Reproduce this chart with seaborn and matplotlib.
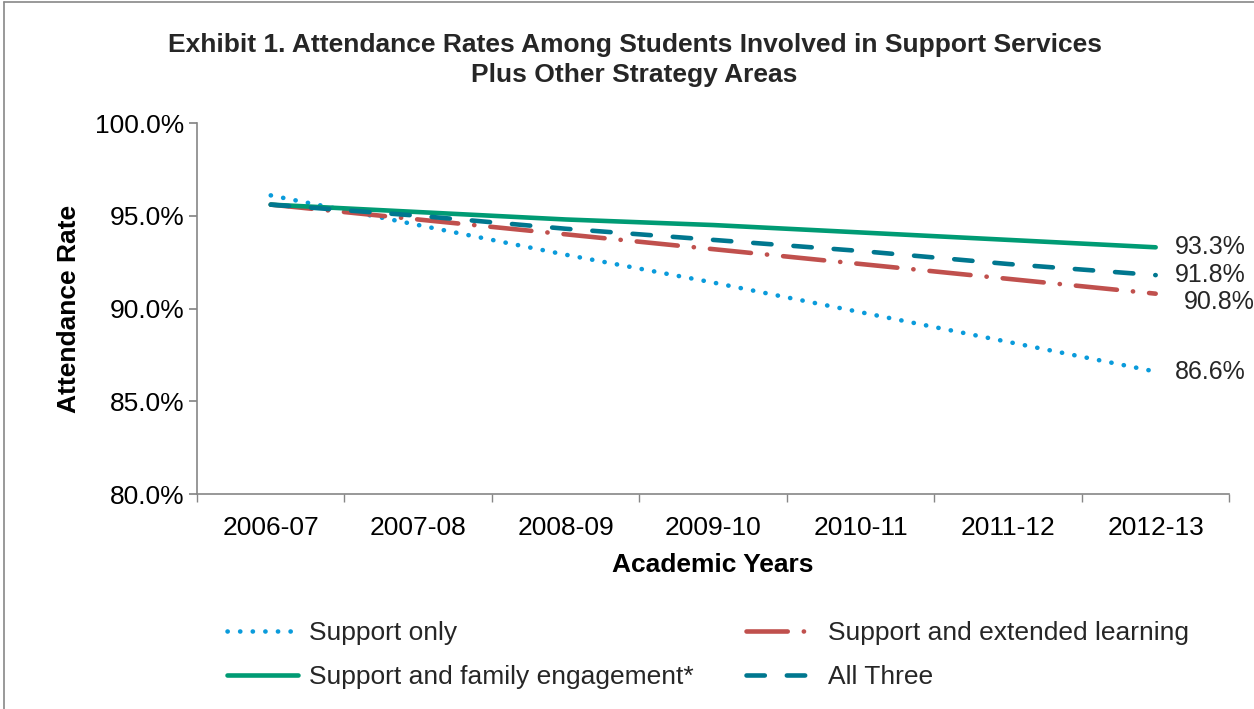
import matplotlib

matplotlib.use("Agg")
import matplotlib.pyplot as plt
from matplotlib.lines import Line2D
from matplotlib.ticker import FixedLocator, PercentFormatter
import pandas as pd
import seaborn as sns

years = ["2006-07", "2007-08", "2008-09", "2009-10", "2010-11", "2011-12", "2012-13"]
support_only = [96.1, 94.5, 92.9, 91.4, 89.8, 88.2, 86.6]
support_extended = [95.6, 94.8, 94.0, 93.2, 92.4, 91.6, 90.8]
support_family = [95.6, 95.2, 94.8, 94.5, 94.1, 93.7, 93.3]
all_three = [95.6, 95.0, 94.3, 93.7, 93.1, 92.4, 91.8]

series_names = ["Support only", "Support and extended learning",
                "Support and family engagement*", "All Three"]
series_values = [support_only, support_extended, support_family, all_three]
colors = ["#0A9BDB", "#C0504D", "#009B74", "#00778F"]
styles = [(0, (0.05, 2.7)), (0, (9, 3.5, 0.05, 3.5)), "-", (0, (4.0, 4.8))]
# end-label nudges in points (keeps 91.8 / 90.8 apart like the original)
label_nudge = [(14, 0), (20, -6), (14, 0), (14, 0)]

sns.set_theme(style="white")
plt.rcParams["font.family"] = ["Liberation Sans", "DejaVu Sans"]

fig = plt.figure(figsize=(12.54, 7.09), dpi=100)
ax = fig.add_axes([0.1571, 0.3032, 0.8233, 0.5233])

for name, vals, col, ls, nudge in zip(series_names, series_values, colors,
                                      styles, label_nudge):
    df = pd.DataFrame({"x": range(len(years)), "y": vals})
    sns.lineplot(data=df, x="x", y="y", ax=ax, color=col, linewidth=3.3,
                 linestyle=ls, label=name, solid_capstyle="round",
                 dash_capstyle="round")
    ax.annotate(f"{vals[-1]:.1f}%", (len(years) - 1, vals[-1]), xytext=nudge,
                textcoords="offset points", fontsize=18, va="center", ha="left")

ax.set_xlim(-0.5, len(years) - 0.5)
ax.set_ylim(80, 100)
ax.yaxis.set_major_locator(FixedLocator([80, 85, 90, 95, 100]))
ax.yaxis.set_major_formatter(PercentFormatter(decimals=1))
ax.set_xticks(range(len(years)))
ax.set_xticklabels(years)
ax.xaxis.set_minor_locator(FixedLocator([i - 0.5 for i in range(len(years) + 1)]))
ax.tick_params(axis="x", which="major", length=0, labelsize=19, pad=16,
               labelcolor="black")
ax.tick_params(axis="x", which="minor", length=6, color="#868686", direction="out",
               bottom=True)
ax.tick_params(axis="y", which="major", length=6, color="#868686", direction="out",
               labelsize=19, left=True, pad=3, labelcolor="black")

for side in ["top", "right"]:
    ax.spines[side].set_visible(False)
for side in ["left", "bottom"]:
    ax.spines[side].set_color("#868686")
    ax.spines[side].set_linewidth(1.2)

ax.set_xlabel("Academic Years", fontsize=19, fontweight="bold", labelpad=9,
              color="black")
ax.set_ylabel("Attendance Rate", fontsize=19, fontweight="bold", labelpad=10,
              color="black")
fig.text(0.506, 0.915, "Exhibit 1. Attendance Rates Among Students Involved in Support Services\n"
         "Plus Other Strategy Areas", ha="center", va="center", fontsize=19,
         fontweight="bold", linespacing=1.3)

# row-major legend order: matplotlib fills columns first
handles, labels = ax.get_legend_handles_labels()
order = [0, 2, 1, 3]
ax.legend([handles[i] for i in order], [labels[i] for i in order], ncol=2,
          loc="center", bbox_to_anchor=(0.495, -0.434), frameon=False,
          fontsize=19, handlelength=2.7, handletextpad=0.4, columnspacing=2.0,
          labelspacing=0.75)

fig.add_artist(Line2D([0.003, 0.003], [0, 0.997], color="#888888", lw=1.2,
                      transform=fig.transFigure))
fig.add_artist(Line2D([0.003, 1.0], [0.997, 0.997], color="#888888", lw=1.2,
                      transform=fig.transFigure))

fig.savefig("out.png", dpi=100)
